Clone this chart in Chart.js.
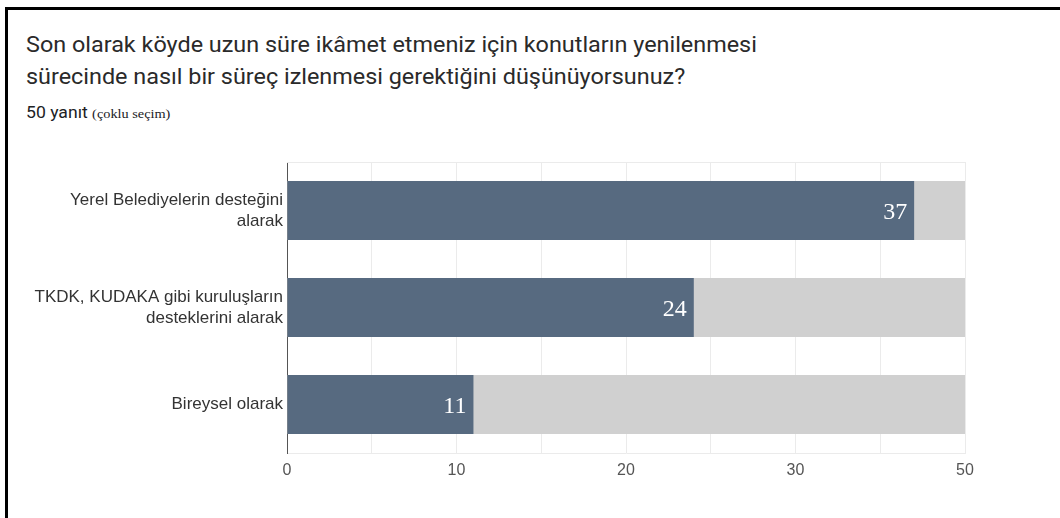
<!DOCTYPE html>
<html>
<head>
<meta charset="utf-8">
<script src="https://cdn.jsdelivr.net/npm/chart.js@4.4.0/dist/chart.umd.min.js"></script>
<style>
  html, body { margin: 0; padding: 0; background: #fff; }
  #wrap { position: relative; width: 1060px; height: 518px; overflow: hidden; background: #fff; }
  #frame { position: absolute; left: 5px; top: 7px; right: 0; bottom: 0; border-left: 3px solid #000; border-top: 3px solid #000; }
  #title { position: absolute; left: 26px; top: 29px; font-family: Roboto, "Noto Sans", sans-serif; font-size: 22px; line-height: 32px; color: #2a2a2a; white-space: nowrap; transform: scaleX(1.063); transform-origin: 0 0; }
  #sub { position: absolute; left: 26px; top: 103px; font-family: Roboto, sans-serif; font-size: 16px; color: #202124; white-space: nowrap; transform: scaleX(1.1); transform-origin: 0 0; }
  #sub span { font-family: "Liberation Serif", serif; font-size: 13px; }
  #chartBox { position: absolute; left: 0; top: 0; width: 1060px; height: 518px; }
</style>
</head>
<body>
<div id="wrap">
  <div id="frame"></div>
  <div id="title">Son olarak köyde uzun süre ikâmet etmeniz için konutların yenilenmesi<br>sürecinde nasıl bir süreç izlenmesi gerektiğini düşünüyorsunuz?</div>
  <div id="sub">50 yanıt <span>(çoklu seçim)</span></div>
  <div id="chartBox"><canvas id="c"></canvas></div>
</div>
<script>
const categories = [
  ['Yerel Belediyelerin desteğini', 'alarak'],
  ['TKDK, KUDAKA gibi kuruluşların', 'desteklerini alarak'],
  ['Bireysel olarak']
];
const values = [37, 24, 11];
const axisMax = 40;
const trackValues = [40, 40, 40];
const tickValues = [0, 10, 20, 30, 40];
const tickLabels = ['0', '10', '20', '30', '50'];

const valueLabels = {
  id: 'valueLabels',
  afterDatasetsDraw(chart) {
    const ctx = chart.ctx;
    const meta = chart.getDatasetMeta(0);
    ctx.save();
    ctx.fillStyle = '#ffffff';
    ctx.font = '24px "Liberation Serif", "Times New Roman", serif';
    ctx.textAlign = 'right';
    ctx.textBaseline = 'middle';
    meta.data.forEach((bar, i) => {
      ctx.fillText(String(values[i]), bar.x - 7, bar.y + 2);
    });
    ctx.restore();
  }
};
const topLine = {
  id: 'topLine',
  beforeDatasetsDraw(chart) {
    const a = chart.chartArea, ctx = chart.ctx;
    ctx.save();
    ctx.strokeStyle = '#ebebeb';
    ctx.lineWidth = 1;
    ctx.beginPath();
    ctx.moveTo(a.left, a.top + 0.5);
    ctx.lineTo(a.right, a.top + 0.5);
    ctx.stroke();
    ctx.restore();
  }
};

new Chart(document.getElementById('c'), {
  type: 'bar',
  data: {
    labels: categories,
    datasets: [
      { data: values, backgroundColor: '#576a80', order: 0, grouped: false,
        barPercentage: 0.61, categoryPercentage: 1 },
      { data: trackValues, backgroundColor: '#d0d0d0', order: 1, grouped: false,
        barPercentage: 0.61, categoryPercentage: 1 }
    ]
  },
  options: {
    indexAxis: 'y',
    responsive: true,
    maintainAspectRatio: false,
    animation: false,
    layout: { padding: { left: 0, top: 162, right: 95, bottom: 35 } },
    plugins: { legend: { display: false }, tooltip: { enabled: false } },
    scales: {
      x: {
        min: 0, max: axisMax,
        afterBuildTicks(scale) {
          const t = [];
          for (let v = 0; v <= axisMax; v += 5) t.push({ value: v });
          scale.ticks = t;
        },
        afterFit(scale) { scale.height = 30; },
        grid: { color: '#ebebeb', drawTicks: false, lineWidth: 1 },
        border: { color: '#ebebeb' },
        ticks: {
          autoSkip: false, maxRotation: 0, padding: 8,
          color: '#555555',
          font: { family: '"Liberation Sans", Arial, sans-serif', size: 16 },
          callback(v) { const k = tickValues.indexOf(v); return k >= 0 ? tickLabels[k] : ''; }
        }
      },
      y: {
        afterFit(scale) { scale.width = 287; },
        grid: { display: false, drawTicks: false },
        border: { color: '#555555', width: 1 },
        ticks: {
          padding: 4,
          color: '#333333',
          font: { family: '"Liberation Sans", Arial, sans-serif', size: 17, lineHeight: 1.25 }
        }
      }
    }
  },
  plugins: [valueLabels, topLine]
});
</script>
</body>
</html>
